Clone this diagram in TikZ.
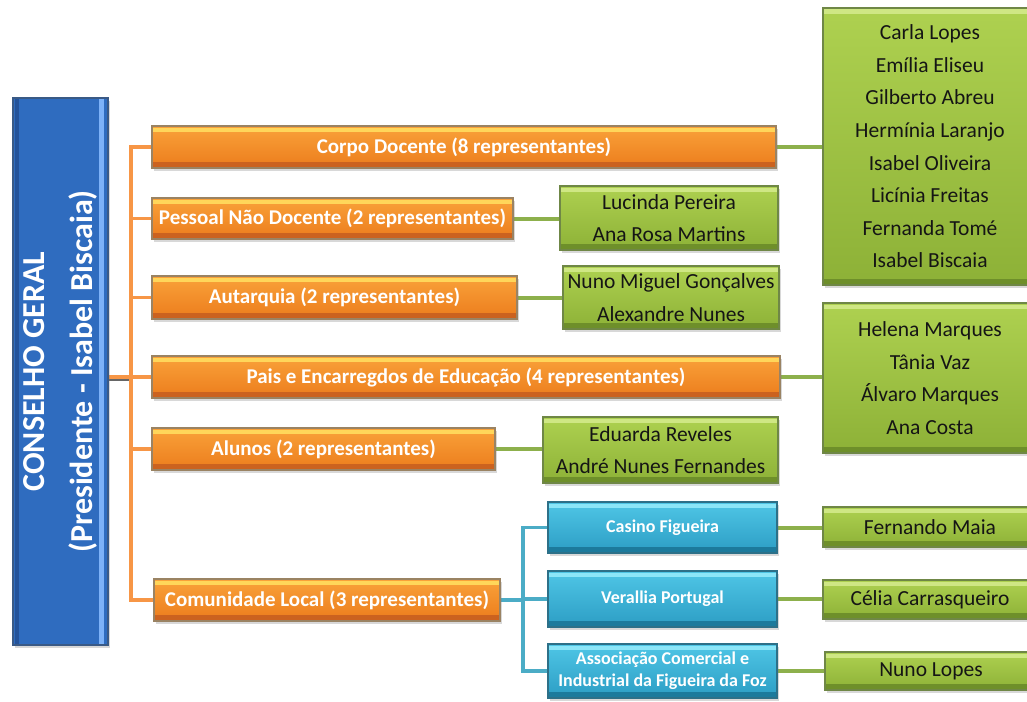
\documentclass[tikz,border=0pt]{standalone}
\usepackage{fontspec}
\setmainfont{Carlito}
\usetikzlibrary{shadows,backgrounds}

% connector colours
\definecolor{lineOrange}{HTML}{F79646}
\definecolor{lineGreen}{HTML}{8DB04C}
\definecolor{lineAqua}{HTML}{4BACC6}
% orange bars
\definecolor{oEdge}{HTML}{9A8363}
\definecolor{oTop}{HTML}{F9A23A}
\definecolor{oBot}{HTML}{EC7C1C}
\definecolor{oHi}{HTML}{FFD65A}
\definecolor{oLow}{HTML}{CB621F}
% green boxes
\definecolor{gEdge}{HTML}{6F8746}
\definecolor{gTop}{HTML}{AED150}
\definecolor{gBot}{HTML}{8DB137}
\definecolor{gHi}{HTML}{CFE784}
\definecolor{gLow}{HTML}{6E8F2A}
% aqua boxes
\definecolor{aEdge}{HTML}{2D7088}
\definecolor{aTop}{HTML}{4FC6E6}
\definecolor{aBot}{HTML}{2C9DC4}
\definecolor{aHi}{HTML}{8CE6F8}
\definecolor{aLow}{HTML}{1C7A9C}
% council box
\definecolor{bEdge}{HTML}{3A5A86}
\definecolor{bMain}{HTML}{2F6CBF}
\definecolor{bHi}{HTML}{7DB2F8}
\definecolor{bLow}{HTML}{24539A}
\definecolor{nameInk}{HTML}{151515}

\tikzset{
  panel/.style={rectangle, inner sep=0pt, line width=1.3pt,
    drop shadow={shadow xshift=2pt, shadow yshift=-3pt, opacity=0.3}},
  bands/.style n args={2}{path picture={
    \fill[#1] ([yshift=-1.5pt]path picture bounding box.north west)
      rectangle ([yshift=-6pt]path picture bounding box.north east);
    \fill[#2] ([yshift=1.5pt]path picture bounding box.south west)
      rectangle ([yshift=6pt]path picture bounding box.south east);}},
  obar/.style={panel, draw=oEdge, top color=oTop, bottom color=oBot,
    bands={oHi}{oLow}, text=white, font=\bfseries\fontsize{21}{25}\selectfont},
  gbox/.style={panel, draw=gEdge, top color=gTop, bottom color=gBot,
    bands={gHi}{gLow}, text=nameInk, align=center,
    font=\fontsize{21.5}{32.6}\selectfont},
  abox/.style={panel, draw=aEdge, top color=aTop, bottom color=aBot,
    bands={aHi}{aLow}, text=white, align=center,
    font=\bfseries\fontsize{18}{22}\selectfont},
  bbox/.style={panel, draw=bEdge, fill=bMain, path picture={
    \fill[bHi] ([xshift=-9pt]path picture bounding box.north east)
      rectangle ([xshift=-4pt]path picture bounding box.south east);
    \fill[bLow] ([xshift=2pt]path picture bounding box.north west)
      rectangle ([xshift=6pt]path picture bounding box.south west);}},
  btext/.style={text=white, align=center, rotate=90, inner sep=0pt,
    font=\bfseries\fontsize{32}{48}\selectfont},
  olink/.style={draw=lineOrange, line width=3.6pt, line cap=rect},
  glink/.style={draw=lineGreen, line width=4pt},
  alink/.style={draw=lineAqua, line width=3.6pt, line cap=rect},
}

\begin{document}
\begin{tikzpicture}[x=1pt, y=-1pt]
\useasboundingbox (0,0) rectangle (1027,701);

% council
\node[bbox, minimum width=95pt, minimum height=547pt] (council) at (60.5,371.5) {};
\node[btext] (councilText) at (council.center)
  {CONSELHO GERAL\\(Presidente - Isabel Biscaia)};

% member groups
\node[obar, minimum width=624pt, minimum height=42pt] (corpo) at (464,147)
  {Corpo Docente (8 representantes)};
\node[obar, minimum width=361pt, minimum height=41pt] (pessoal) at (332.5,218.5)
  {Pessoal Não Docente (2 representantes)};
\node[obar, minimum width=365pt, minimum height=43pt] (autarquia) at (334.5,297.5)
  {Autarquia (2 representantes)};
\node[obar, minimum width=628pt, minimum height=42pt] (pais) at (466,377)
  {Pais e Encarregdos de Educação (4 representantes)};
\node[obar, minimum width=343pt, minimum height=42pt] (alunos) at (323.5,449)
  {Alunos (2 representantes)};
\node[obar, minimum width=346pt, minimum height=42pt] (comunidade) at (327,600)
  {Comunidade Local (3 representantes)};

% names of the representatives
\node[gbox, minimum width=214pt, minimum height=277pt] (corpoNames) at (930,146.5)
  {Carla Lopes\\Emília Eliseu\\Gilberto Abreu\\Hermínia Laranjo\\Isabel Oliveira\\Licínia Freitas\\Fernanda Tomé\\Isabel Biscaia};
\node[gbox, minimum width=218pt, minimum height=64pt] (pessoalNames) at (669,218)
  {Lucinda Pereira\\Ana Rosa Martins};
\node[gbox, minimum width=216pt, minimum height=63pt] (autarquiaNames) at (671,297.5)
  {Nuno Miguel Gonçalves\\Alexandre Nunes};
\node[gbox, minimum width=214pt, minimum height=150pt] (paisNames) at (930,378)
  {Helena Marques\\Tânia Vaz\\Álvaro Marques\\Ana Costa};
\node[gbox, minimum width=235pt, minimum height=66pt] (alunosNames) at (660.5,450)
  {Eduarda Reveles\\André Nunes Fernandes};

% local community institutions
\node[abox, minimum width=229pt, minimum height=51pt] (casino) at (662.5,527.5)
  {Casino Figueira};
\node[abox, minimum width=229pt, minimum height=56pt] (verallia) at (662.5,599)
  {Verallia Portugal};
\node[abox, minimum width=229pt, minimum height=54pt] (acif) at (662.5,671)
  {Associação Comercial e\\Industrial da Figueira da Foz};

\node[gbox, minimum width=214pt, minimum height=40pt] (casinoRep) at (930,527)
  {Fernando Maia};
\node[gbox, minimum width=214pt, minimum height=39pt] (veralliaRep) at (930,599.5)
  {Célia Carrasqueiro};
\node[gbox, minimum width=212pt, minimum height=38pt] (acifRep) at (931,671)
  {Nuno Lopes};

% page background and connectors, behind the boxes
\begin{scope}[on background layer]
  \fill[white] (0,0) rectangle (1027,701);

  \coordinate (hub) at (131,377);
  \draw[draw=black!60, line width=3.6pt] ([yshift=-2pt]council.east |- hub) -- ([yshift=-2pt]hub);
  \draw[olink] (council.east |- hub) -- (hub);
  \draw[olink] (corpo.west -| hub) -- (comunidade.west -| hub);
  \foreach \g in {corpo,pessoal,autarquia,pais,alunos,comunidade}
    \draw[olink] (\g.west -| hub) -- (\g.west);

  \draw[glink] (corpo.east) -- (corpo.east -| corpoNames.west);
  \draw[glink] (pessoal.east) -- (pessoal.east -| pessoalNames.west);
  \draw[glink] (autarquia.east) -- (autarquia.east -| autarquiaNames.west);
  \draw[glink] (pais.east) -- (pais.east -| paisNames.west);
  \draw[glink] (alunos.east) -- (alunos.east -| alunosNames.west);

  \coordinate (split) at (523,600);
  \draw[alink] (comunidade.east) -- (split);
  \draw[alink] (casino.west -| split) -- (acif.west -| split);
  \foreach \c in {casino,verallia,acif}
    \draw[alink] (\c.west -| split) -- (\c.west);

  \draw[glink] (casino.east) -- (casino.east -| casinoRep.west);
  \draw[glink] (verallia.east) -- (verallia.east -| veralliaRep.west);
  \draw[glink] (acif.east) -- (acif.east -| acifRep.west);
\end{scope}
\end{tikzpicture}
\end{document}
